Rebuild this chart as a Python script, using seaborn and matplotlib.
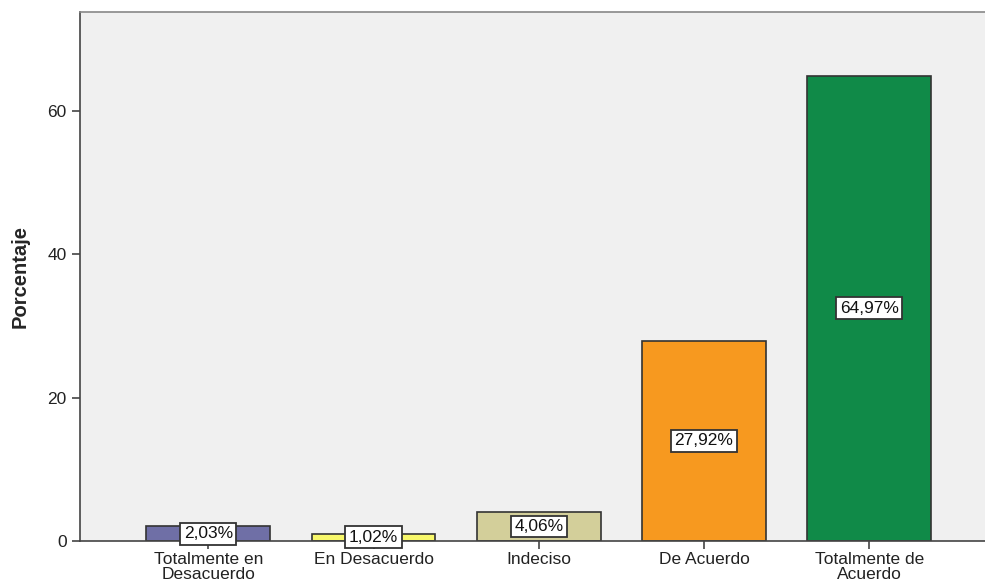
import pandas as pd
import matplotlib
matplotlib.use("Agg")
import matplotlib.pyplot as plt
import seaborn as sns

# -----------------------------------
# DATA
# -----------------------------------

categorias = ["Totalmente en\nDesacuerdo", "En Desacuerdo", "Indeciso",
              "De Acuerdo", "Totalmente de\nAcuerdo"]
porcentajes = [2.03, 1.02, 4.06, 27.92, 64.97]
etiquetas = ["2,03%", "1,02%", "4,06%", "27,92%", "64,97%"]
colores = ["#6F6FA6", "#F8F86A", "#D3CF9A", "#F7991F", "#108A48"]

df = pd.DataFrame({"categoria": categorias, "porcentaje": porcentajes})

# -----------------------------------
# PLOT
# -----------------------------------

sns.set_style("white")
plt.rcParams["font.family"] = ["Liberation Sans", "DejaVu Sans"]

fig = plt.figure(figsize=(9.85, 5.83), dpi=100)
ax = fig.add_axes([0.0812, 0.072, 0.9188, 0.907])
ax.set_facecolor("#F0F0F0")

sns.barplot(
    data=df, x="categoria", y="porcentaje", hue="categoria",
    palette=colores, legend=False, width=0.75, saturation=1,
    edgecolor="#333333", linewidth=1.2, ax=ax,
)

for i, (v, t) in enumerate(zip(porcentajes, etiquetas)):
    ax.text(i, v / 2, t, ha="center", va="center", fontsize=12.5,
            color="#111111",
            bbox=dict(boxstyle="square,pad=0.2", fc="white",
                      ec="#333333", lw=1.3))

ax.set_xlim(-0.776, 4.70)
ax.set_ylim(0, 73.8)
ax.set_yticks([0, 20, 40, 60])
ax.set_xlabel("")
ax.set_ylabel("Porcentaje", fontsize=14.5, fontweight="bold", labelpad=13)

for s in ["left", "bottom", "top"]:
    ax.spines[s].set_color("#444444")
    ax.spines[s].set_linewidth(1.2)
ax.spines["top"].set_color("#888888")
ax.spines["right"].set_visible(False)

ax.tick_params(axis="both", direction="out", length=6, width=1.2,
               color="#444444", labelsize=12.5, labelcolor="#222222",
               left=True, bottom=True)
ax.tick_params(axis="x", pad=2)
for lbl in ax.get_xticklabels():
    lbl.set_linespacing(1.0)

fig.savefig("out.png", dpi=100)
